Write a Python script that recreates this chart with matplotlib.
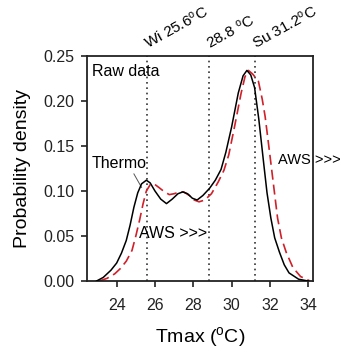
import numpy as np
import matplotlib
matplotlib.use("Agg")
import matplotlib.pyplot as plt

plt.rcParams['font.family'] = ['Liberation Sans', 'DejaVu Sans']
plt.rcParams['mathtext.default'] = 'regular'

# Thermo (black, solid) density curve
thermo_x = [22.95, 23.3, 23.7, 24.0, 24.25, 24.5, 24.7, 24.9, 25.1, 25.3, 25.55, 25.75,
            26.0, 26.3, 26.6, 26.9, 27.2, 27.45, 27.7, 27.95, 28.2, 28.5, 28.85, 29.15,
            29.45, 29.7, 30.0, 30.35, 30.6, 30.8, 31.0, 31.2, 31.42, 31.68, 31.85, 32.05,
            32.25, 32.5, 32.75, 33.0, 33.5, 34.0]
thermo_y = [0.0, 0.004, 0.012, 0.02, 0.031, 0.045, 0.062, 0.082, 0.098, 0.108, 0.112, 0.109,
            0.100, 0.091, 0.086, 0.091, 0.097, 0.099, 0.097, 0.092, 0.090, 0.095, 0.103, 0.112,
            0.124, 0.143, 0.171, 0.209, 0.228, 0.234, 0.229, 0.215, 0.180, 0.130, 0.098, 0.070,
            0.048, 0.032, 0.018, 0.009, 0.002, 0.0]

# AWS (red, dashed) density curve
aws_x = [23.1, 23.5, 23.9, 24.2, 24.5, 24.8, 25.0, 25.2, 25.38, 25.55, 25.75, 25.95,
         26.2, 26.5, 26.75, 27.0, 27.3, 27.5, 27.8, 28.05, 28.3, 28.6, 28.95, 29.3,
         29.6, 29.85, 30.15, 30.5, 30.7, 30.88, 31.1, 31.4, 31.6, 31.75, 32.0, 32.2,
         32.4, 32.6, 32.85, 33.2, 33.6, 34.1]
aws_y = [0.0, 0.003, 0.008, 0.014, 0.022, 0.034, 0.05, 0.068, 0.086, 0.100, 0.107, 0.108,
         0.104, 0.099, 0.096, 0.097, 0.099, 0.099, 0.095, 0.090, 0.088, 0.090, 0.097, 0.110,
         0.123, 0.140, 0.171, 0.209, 0.227, 0.234, 0.230, 0.222, 0.202, 0.183, 0.140, 0.105,
         0.070, 0.048, 0.032, 0.015, 0.005, 0.0]

# vertical reference lines and their labels
vlines = [25.6, 28.8, 31.2]
vlabels = ['Wi 25.6$^{o}$C', '28.8 $^{o}$C', 'Su 31.2$^{o}$C']

xticks = [24, 26, 28, 30, 32, 34]
yticks = [0.00, 0.05, 0.10, 0.15, 0.20, 0.25]

fig = plt.figure(figsize=(3.43, 3.49), dpi=100)
ax = fig.add_axes([0.2536, 0.1948, 0.6589, 0.6447])

for v in vlines:
    ax.axvline(v, color='#333333', ls=(0, (1, 2.2)), lw=1.2, zorder=1)

ax.plot(thermo_x, thermo_y, color='black', lw=1.1, zorder=3)
ax.plot(aws_x, aws_y, color='#d0202a', lw=1.2, dashes=(6, 3), zorder=2)

ax.set_xlim(22.45, 34.25)
ax.set_ylim(0, 0.25)
ax.set_xticks(xticks)
ax.set_yticks(yticks)
ax.set_yticklabels(['%.2f' % t for t in yticks])
ax.tick_params(direction='out', length=4, width=1.2, labelsize=11.5, colors='#222222')
ax.tick_params(axis='x', pad=8)
ax.tick_params(axis='y', pad=5)
for s in ax.spines.values():
    s.set_linewidth(1.3)
    s.set_color('#222222')

ax.set_xlabel('Tmax ($^{o}$C)', fontsize=14, labelpad=9)
ax.set_ylabel('Probability density', fontsize=14, labelpad=9)

trans = ax.get_xaxis_transform()
for v, lab in zip(vlines, vlabels):
    ax.text(v + 0.12, 1.02, lab, transform=trans, rotation=29, rotation_mode='anchor',
            ha='left', va='bottom', fontsize=11, clip_on=False)

ax.text(22.7, 0.233, 'Raw data', fontsize=11.5, va='center', ha='left')
ax.text(22.7, 0.131, 'Thermo', fontsize=11.5, va='center', ha='left')
ax.plot([24.9, 25.3], [0.119, 0.104], color='#555555', lw=0.7)
ax.text(25.15, 0.053, 'AWS >>>', fontsize=11.5, va='center', ha='left')
ax.text(32.4, 0.135, 'AWS >>>', fontsize=10.5, va='center', ha='left', clip_on=False)

fig.savefig('out.png', dpi=100)
